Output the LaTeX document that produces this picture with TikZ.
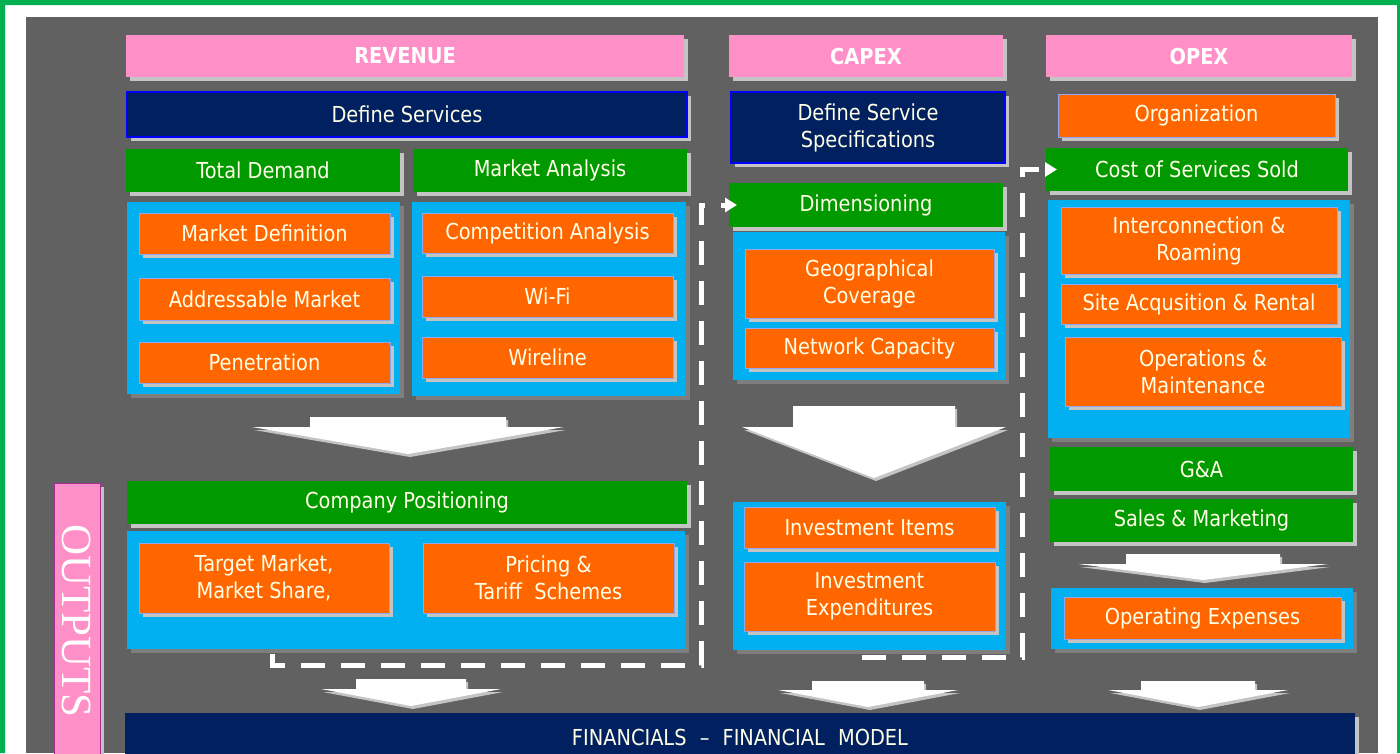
\documentclass[tikz,border=0pt]{standalone}
\usepackage{fontspec}
\setmainfont{DejaVu Sans}[FakeStretch=0.88]
\newfontfamily\outfont{Liberation Serif}
\usetikzlibrary{shadows,arrows.meta}

\definecolor{framec}{HTML}{00B050}
\definecolor{bggrey}{HTML}{616161}
\definecolor{pinkc}{HTML}{FF8FC7}
\definecolor{navyc}{HTML}{002060}
\definecolor{greenc}{HTML}{009900}
\definecolor{cyanc}{HTML}{00B0F0}
\definecolor{orangec}{HTML}{FF6600}
\definecolor{edgec}{HTML}{8FA8F0}
\definecolor{shadowc}{HTML}{C4C4C4}
\definecolor{panelshadowc}{HTML}{7E7E7E}
\definecolor{textc}{HTML}{FFFFE8}

\newcommand{\boxfont}{\fontsize{22}{27}\selectfont}
% center x, top, head y, tip y, half shaft, half head
\newcommand{\flowarrow}[6]{
  \fill[shadowc, shift={(2,3)}] (#1-#5,#2) -- (#1+#5,#2) -- (#1+#5,#3) -- (#1+#6,#3)
    -- (#1,#4) -- (#1-#6,#3) -- (#1-#5,#3) -- cycle;
  \fill[white] (#1-#5,#2) -- (#1+#5,#2) -- (#1+#5,#3) -- (#1+#6,#3)
    -- (#1,#4) -- (#1-#6,#3) -- (#1-#5,#3) -- cycle;
}

\tikzset{
  wh/.style 2 args={minimum width=#1, minimum height=#2},
  cell/.style={inner sep=0pt, outer sep=0pt, text=textc, align=center, font=\boxfont},
  shade/.style={drop shadow={shadow xshift=4pt, shadow yshift=-4pt, fill=shadowc, opacity=1}},
  header/.style={cell, shade, fill=pinkc, text=white, font=\boxfont\bfseries},
  navybox/.style={cell, shade, fill=navyc, draw=blue, line width=1.2pt},
  greenbox/.style={cell, shade, fill=greenc},
  orangebox/.style={cell, shade, fill=orangec, draw=edgec, line width=1pt},
  panel/.style={cell, fill=cyanc,
    drop shadow={shadow xshift=4pt, shadow yshift=-4pt, fill=panelshadowc, opacity=1}},
  feedback/.style={draw=white, line width=5pt, dash pattern=on 24pt off 16pt,
    -{Triangle[length=12pt, width=14pt]}}
}

\begin{document}
\begin{tikzpicture}[x=1pt, y=-1pt]
  \useasboundingbox (0,0) rectangle (1400,753);
  \clip (0,0) rectangle (1400,753);

  % frame and background
  \fill[white] (0,0) rectangle (1400,753);
  \fill[framec] (0,0) rectangle (5,753) (0,0) rectangle (1400,5) (1397,0) rectangle (1400,753);
  \fill[bggrey] (26,17) rectangle (1378,753);

  % headers
  \node[header, wh={558}{42}] (revhead) at (405,56) {REVENUE};
  \node[header, wh={274}{42}] (caphead) at (866,56) {CAPEX};
  \node[header, wh={306}{42}] (opxhead) at (1199,56) {OPEX};

  % revenue
  \node[navybox, wh={560}{45}] (defserv) at (407,114.5) {Define Services};
  \node[greenbox, wh={274}{43}] (totdem) at (263,170.5) {Total Demand};
  \node[greenbox, wh={274}{43}] (mktan) at (550,170.5) {Market Analysis};
  \node[panel, wh={273}{192}] (dempanel) at (263.5,298) {};
  \node[panel, wh={274}{194}] (anpanel) at (549,299) {};
  \node[orangebox, wh={251}{41}] (mktdef) at (264.5,233.5) {Market Definition};
  \node[orangebox, wh={251}{42}] (addr) at (264.5,299) {Addressable Market};
  \node[orangebox, wh={251}{41}] (pen) at (264.5,362.5) {Penetration};
  \node[orangebox, wh={251}{40}] (comp) at (547.5,233) {Competition Analysis};
  \node[orangebox, wh={251}{41}] (wifi) at (547.5,296.5) {Wi-Fi};
  \node[orangebox, wh={251}{41}] (wire) at (547.5,357.5) {Wireline};

  \node[greenbox, wh={560}{43}] (compos) at (407,502.5) {Company Positioning};
  \node[panel, wh={558}{118}] (pospanel) at (406,590) {};
  \node[orangebox, wh={250}{70}] (target) at (264,578) {Target Market,\\Market Share,};
  \node[orangebox, wh={251}{70}] (pricing) at (548.5,578) {Pricing \&\\Tariff\ \ Schemes};

  % capex
  \node[navybox, wh={274}{71}] (defspec) at (868,127.5) {Define Service\\Specifications};
  \node[greenbox, wh={274}{44}] (dim) at (866,205) {Dimensioning};
  \node[panel, wh={272}{148}] (dimpanel) at (869,306) {};
  \node[orangebox, wh={249}{69}] (geo) at (869.5,283.5) {Geographical\\Coverage};
  \node[orangebox, wh={249}{40}] (netcap) at (869.5,348) {Network Capacity};
  \node[panel, wh={273}{148}] (invpanel) at (869.5,576) {};
  \node[orangebox, wh={251}{41}] (invitems) at (869.5,527.5) {Investment Items};
  \node[orangebox, wh={251}{69}] (invexp) at (869.5,596.5) {Investment\\Expenditures};

  % opex
  \node[orangebox, wh={277}{43}] (org) at (1196.5,115.5) {Organization};
  \node[greenbox, wh={302}{43}] (css) at (1197,169.5) {Cost of Services Sold};
  \node[panel, wh={302}{238}] (csspanel) at (1199,319) {};
  \node[orangebox, wh={276}{67}] (intercon) at (1199,240.5) {Interconnection \&\\Roaming};
  \node[orangebox, wh={276}{40}] (site) at (1199,304) {Site Acqusition \& Rental};
  \node[orangebox, wh={276}{69}] (om) at (1203,371.5) {Operations \&\\Maintenance};
  \node[greenbox, wh={303}{44}] (ga) at (1201.5,469) {G\&A};
  \node[greenbox, wh={303}{43}] (sales) at (1201.5,520.5) {Sales \& Marketing};
  \node[panel, wh={302}{61}] (opxpanel) at (1202,618.5) {};
  \node[orangebox, wh={277}{42}] (opexp) at (1202.5,618) {Operating Expenses};

  % outputs
  \node[cell, shade, fill=pinkc, draw=violet!70!pinkc, line width=1pt, rotate=-90,
    wh={276}{46}, text=white, font=\outfont\fontsize{43}{43}\selectfont] (outputs) at (77,621) {OUTPUTS};
  \node[cell, shade, fill=navyc, wh={1230}{48}] (fin) at (740,737)
    {FINANCIALS\hspace{0.6em}--\hspace{0.6em}FINANCIAL\hspace{0.6em}MODEL};

  % flow arrows
  \flowarrow{408}{417}{427}{454}{98}{156}
  \flowarrow{874}{406}{427}{478}{81}{132}
  \flowarrow{1203}{554}{564}{580}{77}{125}
  \flowarrow{411}{679}{689}{706}{55}{90}
  \flowarrow{868}{681}{690}{707}{56}{90}
  \flowarrow{1198}{681}{690}{707}{57}{90}

  % feedback lines
  \coordinate (fbrev) at (272,654);
  \coordinate (fbrevc) at (701,665);
  \coordinate (fbcap) at (862,657);
  \coordinate (fbcapc) at (1022,657);
  \draw[feedback, shorten >=-8pt] (fbrev) |- (fbrevc) |- (dim.west);
  \draw[feedback, shorten >=-11pt] (fbcap) -- (fbcapc) |- (css.west);
\end{tikzpicture}
\end{document}
